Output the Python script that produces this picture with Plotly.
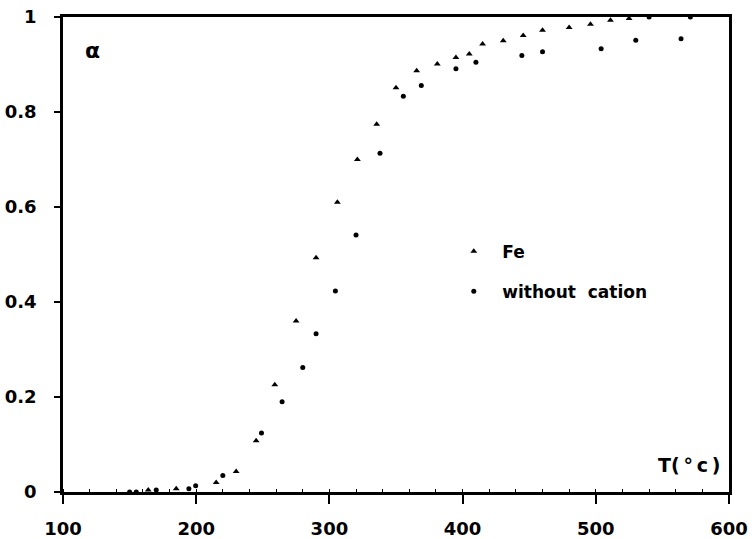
import plotly.graph_objects as go

# Fe series (triangles)
fe_T = [164, 185, 215, 230, 245, 259, 275, 290, 306, 321, 335.5, 350, 365.5, 381,
        395, 405, 415, 430.5, 445.5, 460, 480, 496, 511, 525]
fe_alpha = [0.004, 0.007, 0.02, 0.043, 0.108, 0.226, 0.36, 0.493, 0.61, 0.70, 0.774,
            0.851, 0.887, 0.901, 0.915, 0.922, 0.943, 0.95, 0.961, 0.972, 0.978,
            0.985, 0.993, 0.997]

# Without cation series (dots)
wc_T = [150, 155, 170, 194.5, 199.6, 220, 249, 264.5, 280, 290, 304.5, 320, 338,
        355.5, 369, 395, 410, 444.5, 460, 504, 530, 540, 564, 571]
wc_alpha = [0.0, 0.0, 0.004, 0.007, 0.013, 0.035, 0.124, 0.19, 0.262, 0.333, 0.423,
            0.541, 0.713, 0.833, 0.856, 0.891, 0.905, 0.919, 0.927, 0.933, 0.951,
            1.0, 0.954, 1.0]

x_ticks = [100, 200, 300, 400, 500, 600]
y_ticks = [0, 0.2, 0.4, 0.6, 0.8, 1]
y_tick_labels = ["0", "0.2", "0.4", "0.6", "0.8", "1"]

FONT = dict(family="DejaVu Sans", size=18, color="black", weight="bold")

fig = go.Figure()
fig.add_trace(go.Scatter(
    x=fe_T, y=fe_alpha, mode="markers", name="Fe", legendgroup="fe",
    marker=dict(symbol="triangle-up", size=6, color="black"),
    cliponaxis=False))
fig.add_trace(go.Scatter(
    x=wc_T, y=wc_alpha, mode="markers", name="without  cation", legendgroup="wc",
    marker=dict(symbol="circle", size=5, color="black"),
    cliponaxis=False))

fig.update_layout(
    width=752, height=539,
    margin=dict(l=63, r=23, t=17, b=47, autoexpand=False),
    paper_bgcolor="white", plot_bgcolor="white",
    font=FONT,
    showlegend=True,
    legend=dict(x=0.574, y=0.544, xanchor="left", yanchor="top",
                bgcolor="rgba(0,0,0,0)", font=dict(family="DejaVu Sans", size=17,
                                                     color="black", weight="bold"),
                traceorder="grouped", tracegroupgap=15, itemwidth=47),
    annotations=[
        dict(text="α", x=0.03, y=0.961, xref="paper", yref="paper",
             showarrow=False, font=dict(family="DejaVu Sans", size=22, color="black",
                                        weight="bold")),
        dict(text="T(\u2009°\u2009c\u2009)", x=0.99, y=0.03, xref="paper", yref="paper",
             xanchor="right", showarrow=False,
             font=dict(family="DejaVu Sans", size=19, color="black", weight="bold")),
    ],
)

fig.update_xaxes(
    range=[100, 600], tickvals=x_ticks, ticks="outside", ticklen=9, tickwidth=2,
    tickcolor="black", showline=True, linewidth=2.5, linecolor="black", mirror=True,
    showgrid=False, zeroline=False, ticklabelstandoff=10, automargin=False,
    minor=dict(dtick=20, ticks="inside", ticklen=3, tickwidth=1, tickcolor="black",
               showgrid=False),
    tickfont=FONT)
fig.update_yaxes(
    range=[0, 1], tickvals=y_ticks, ticktext=y_tick_labels, ticks="outside", ticklen=6,
    tickwidth=2, tickcolor="black", showline=True, linewidth=2.5, linecolor="black",
    mirror=True, showgrid=False, zeroline=False, ticklabelstandoff=14, automargin=False,
    tickfont=FONT)

fig.write_html("out.html")
